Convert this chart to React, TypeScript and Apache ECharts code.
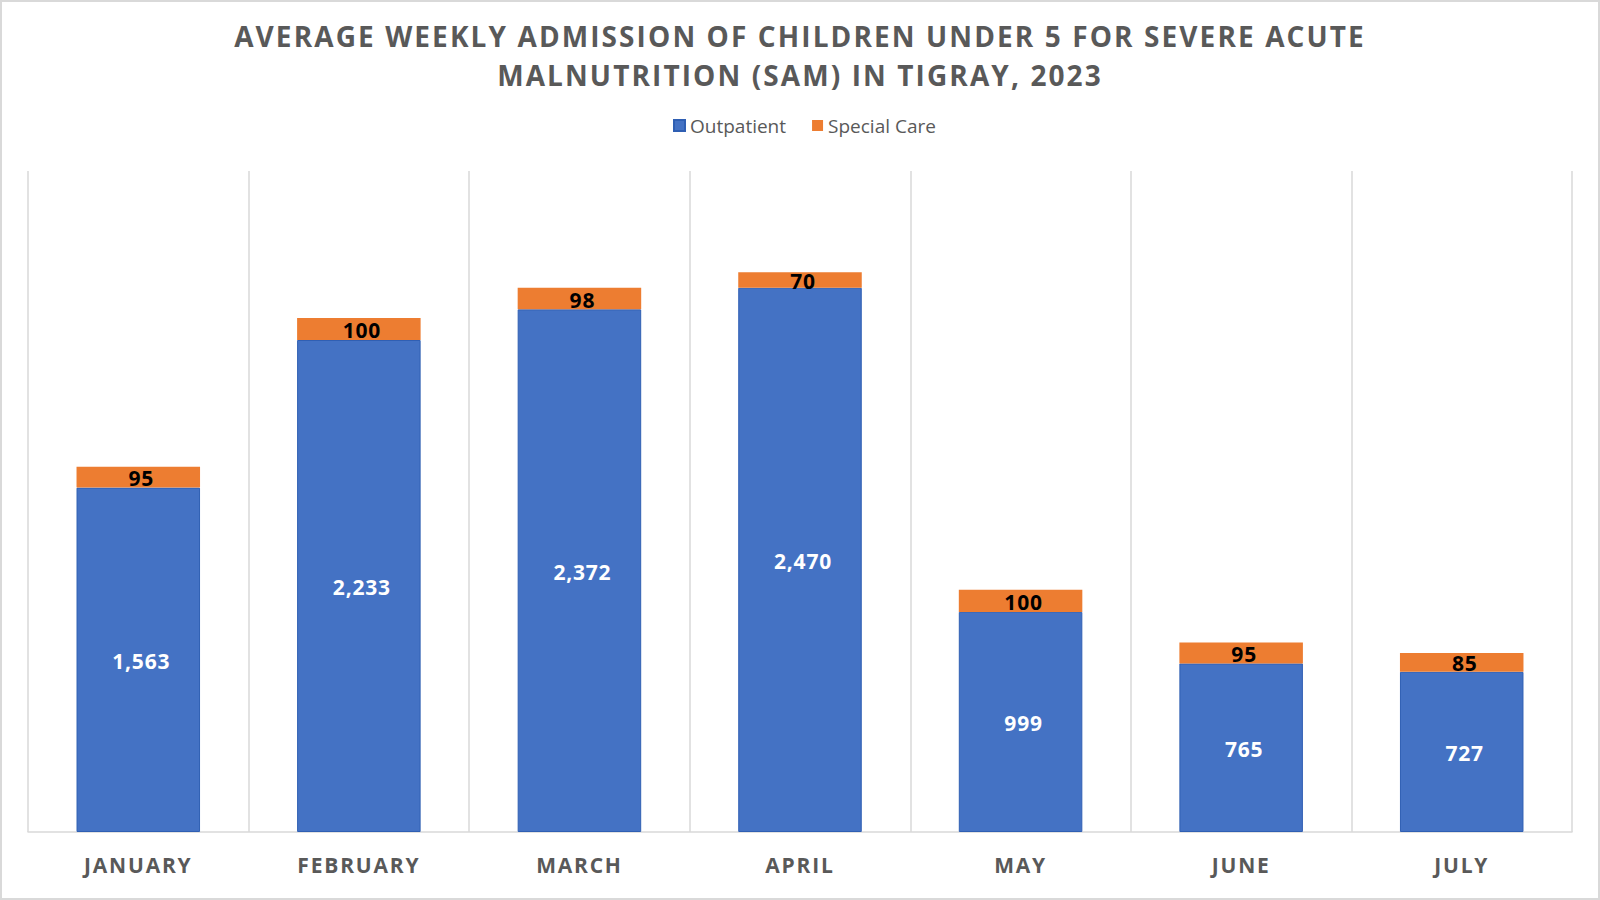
import React, { useEffect, useRef } from "react";
import * as echarts from "echarts";

const months = ["JANUARY", "FEBRUARY", "MARCH", "APRIL", "MAY", "JUNE", "JULY"];
const outpatient = [1563, 2233, 2372, 2470, 999, 765, 727];
const specialCare = [95, 100, 98, 70, 100, 95, 85];

const titleLines = [
  "AVERAGE WEEKLY ADMISSION OF CHILDREN UNDER 5 FOR SEVERE ACUTE",
  "MALNUTRITION (SAM) IN TIGRAY, 2023",
];

const FONT = "'Open Sans', 'Noto Sans', sans-serif";
const GRAY = "#595959";

export default function App() {
  const ref = useRef<HTMLDivElement>(null);
  useEffect(() => {
    document.body.style.margin = "0";
    if (!ref.current) return;
    const chart = echarts.init(ref.current, undefined, { renderer: "svg" });
    const fmt = (v: number) => Number(v).toLocaleString("en-US");
    const applySpacing = () => {
      const root = ref.current;
      if (!root) return;
      const labelsBlue = outpatient.map(fmt);
      const labelsOrange = specialCare.map((v) => String(v));
      root.querySelectorAll("text").forEach((t) => {
        const s = (t.textContent || "").trim();
        if (titleLines.includes(s)) t.setAttribute("letter-spacing", "2.1");
        else if (months.includes(s)) t.setAttribute("letter-spacing", "1.8");
        else if (labelsBlue.includes(s) || labelsOrange.includes(s))
          t.setAttribute("letter-spacing", "0.8");
      });
    };
    chart.on("finished", applySpacing);
    chart.setOption({
      animation: false,
      backgroundColor: "#ffffff",
      title: {
        text: titleLines.join("\n"),
        left: 795,
        top: 11,
        textAlign: "center",
        textStyle: {
          fontFamily: FONT,
          fontSize: 28,
          fontWeight: "bold",
          color: GRAY,
          lineHeight: 39,
        },
      },
      legend: {
        top: 111,
        left: 668,
        itemWidth: 11,
        itemHeight: 11,
        itemGap: 26,
        icon: "rect",
        textStyle: { fontFamily: FONT, fontSize: 19, color: GRAY },
        data: ["Outpatient", "Special Care"],
      },
      graphic: [
        {
          type: "rect",
          shape: { x: 1, y: 1, width: 1598, height: 898 },
          style: { fill: "none", stroke: "#d9d9d9", lineWidth: 2 },
          silent: true,
        },
      ],
      grid: { left: 28, right: 28, top: 171, bottom: 68, containLabel: false },
      xAxis: {
        type: "category",
        data: months,
        axisTick: { show: false },
        axisLine: { lineStyle: { color: "#d9d9d9", width: 1.5 } },
        splitLine: { show: true, lineStyle: { color: "#d9d9d9", width: 1.5 } },
        axisLabel: {
          margin: 22,
          fontFamily: FONT,
          fontSize: 21,
          fontWeight: "bold",
          color: GRAY,
        },
      },
      yAxis: {
        type: "value",
        min: 0,
        max: 3000,
        show: false,
        splitLine: { show: false },
      },
      series: [
        {
          name: "Outpatient",
          type: "bar",
          stack: "total",
          barWidth: "56%",
          data: outpatient,
          itemStyle: { color: "#4472C4", borderColor: "#2F5FB3", borderWidth: 1 },
          label: {
            show: true,
            position: "inside",
            offset: [3, 1],
            fontFamily: FONT,
            fontSize: 21,
            fontWeight: "bold",
            color: "#ffffff",
            formatter: (p: any) => fmt(p.value),
          },
        },
        {
          name: "Special Care",
          type: "bar",
          stack: "total",
          barWidth: "56%",
          data: specialCare,
          itemStyle: { color: "#ED7D31" },
          label: {
            show: true,
            position: "inside",
            offset: [3, 1],
            fontFamily: FONT,
            fontSize: 21,
            fontWeight: "bold",
            color: "#000000",
          },
        },
      ],
    });
    applySpacing();
    return () => chart.dispose();
  }, []);
  return <div ref={ref} style={{ width: 1600, height: 900 }} />;
}
